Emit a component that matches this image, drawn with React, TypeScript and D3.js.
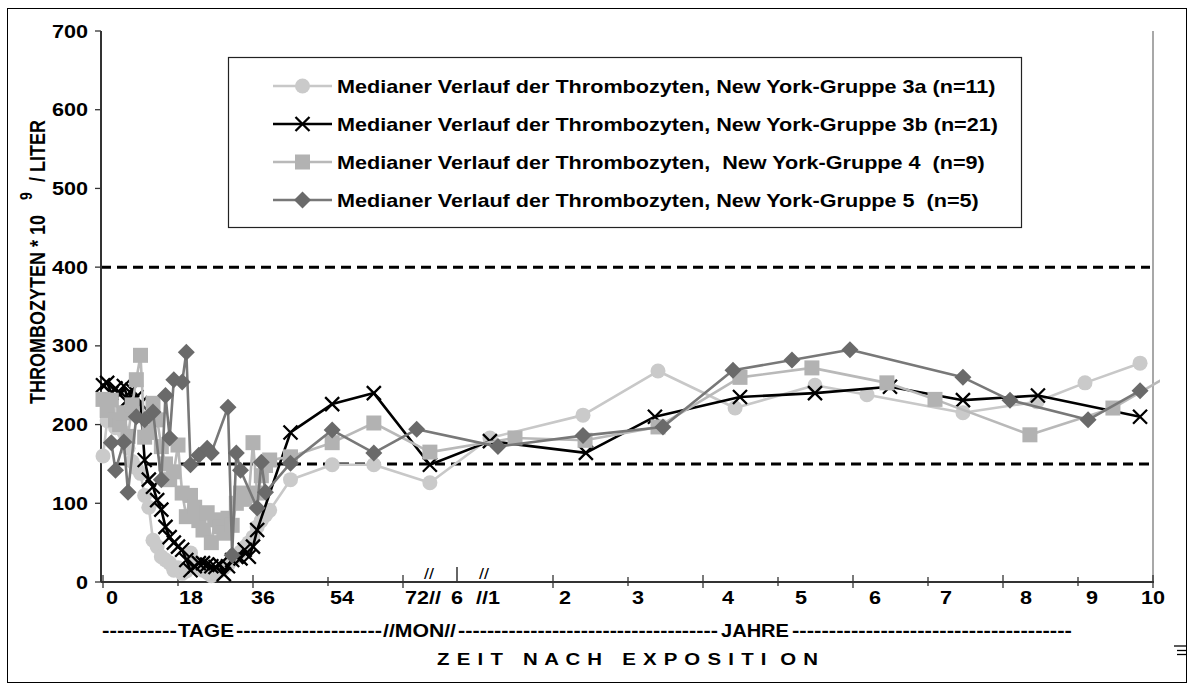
import React from 'react';
import * as d3 from 'd3';

const W = 1189;
const H = 684;
const FONT = '"Liberation Sans", Arial, Helvetica, sans-serif';
const SX = 1.2; // horizontal stretch of the original lettering

// Zeitachse: Tage nach Exposition (gebrochene Achse: Tage | Monate | Jahre)
const AXIS_BREAKS_DAYS = [0, 72, 182.5, 365, 3650];
const Y_TICKS = [0, 100, 200, 300, 400, 500, 600, 700];
const REF_LINES = [400, 150];

const X_TICK_DAYS = [0, 18, 36, 54, 72, 730, 1095, 1460, 1825, 2190, 2555, 2920, 3285, 3650];
const X_TICK_MAJOR = [0, 36, 72, 730, 1460, 2190, 2920, 3650];
const X_LABELS = ['0', '18', '36', '54', '72//', '6', '//1', '2', '3', '4', '5', '6', '7', '8', '9', '10'];
const X_LABEL_PX = [112, 191, 263, 342, 423, 457, 488, 565, 638, 728, 801, 875, 946, 1026, 1092, 1153];

const LEGEND_LABELS = [
  'Medianer Verlauf der Thrombozyten, New York-Gruppe 3a (n=11)',
  'Medianer Verlauf der Thrombozyten, New York-Gruppe 3b (n=21)',
  'Medianer Verlauf der Thrombozyten,  New York-Gruppe 4  (n=9)',
  'Medianer Verlauf der Thrombozyten, New York-Gruppe 5  (n=5)',
];

// Gruppe 3a
const g3aDays = [
  0, 1, 2, 3, 4, 5, 6, 7, 8, 9, 10, 11, 12, 13, 14, 15, 16, 17, 18, 19, 20,
  21, 22, 23, 24, 25, 26, 27, 28, 29, 30, 31, 32, 33, 34, 35, 36, 37, 38, 39, 40,
  45, 55, 65, 127, 423, 876, 1241, 1616, 2005, 2258, 2725, 3085, 3319, 3587,
];
const g3aVals = [
  160, 205, 210, 196, 214, 190, 170, 153, 145, 138, 110, 95, 53, 45, 32, 28, 24, 15, 18, 11,
  14, 37, 25, 19, 15, 12, 8, 11, 14, 18, 22, 28, 32, 38, 44, 50, 57, 70, 78, 85, 91,
  130, 149, 149, 126, 183, 212, 268, 221, 250, 238, 215, 229, 253, 278,
];

// Gruppe 3b
const g3bDays = [
  0, 1, 2, 3, 4, 5, 6, 7, 8, 9, 10, 11, 12, 13, 14, 15, 16, 17, 18, 19, 20,
  21, 22, 23, 24, 25, 26, 27, 28, 29, 30, 31, 32, 33, 34, 35, 36, 37,
  45, 55, 65, 127, 423, 890, 1226, 1640, 2005, 2370, 2725, 3090, 3587,
];
const g3bVals = [
  250, 253, 240, 246, 238, 249, 232, 244, 235, 227, 155, 130, 121, 104, 92, 70, 57, 50, 45, 41,
  28, 15, 20, 24, 24, 22, 20, 19, 22, 10, 20, 28, 32, 30, 41, 32, 45, 66,
  190, 226, 240, 149, 179, 164, 210, 235, 240, 248, 231, 237, 210,
];

// Gruppe 4
const g4Days = [
  0, 1, 2, 3, 4, 5, 6, 7, 8, 9, 10, 11, 12, 13, 14, 15, 16, 17, 18, 19, 20,
  21, 22, 23, 24, 25, 26, 27, 28, 29, 30, 31, 32, 33, 34, 35, 36, 37, 38, 39, 40,
  45, 55, 65, 127, 545, 886, 1241, 1640, 1990, 2355, 2589, 3051, 3455, 3830,
];
const g4Vals = [
  232, 218, 231, 206, 200, 215, 185, 225, 257, 288, 184, 190, 227, 206, 172, 150, 130, 140, 174, 113,
  83, 110, 95, 78, 66, 88, 50, 79, 70, 62, 81, 72, 100, 113, 105, 110, 177, 113, 135, 148, 155,
  159, 177, 202, 165, 183, 180, 197, 260, 272, 253, 232, 187, 221, 278,
];

// Gruppe 5
const g5Days = [
  2, 3, 5, 6, 8, 10, 12, 14, 15, 16, 17, 19, 20, 21, 23, 25, 26, 30, 31, 32, 33, 37, 38, 39,
  45, 55, 65, 100, 462, 876, 1265, 1606, 1893, 2175, 2725, 2954, 3334, 3587,
];
const g5Vals = [
  177, 142, 178, 114, 210, 206, 216, 130, 237, 183, 257, 254, 292, 149, 161, 170, 164, 222, 34, 164, 142, 94, 152, 114,
  151, 193, 164, 194, 172, 186, 197, 269, 282, 295, 260, 231, 206, 243,
];

type MarkerType = 'circle' | 'x' | 'square' | 'diamond';

const SERIES: { days: number[]; vals: number[]; marker: MarkerType; stroke: string; fill: string }[] = [
  { days: g3aDays, vals: g3aVals, marker: 'circle', stroke: '#c8c8c8', fill: '#cacaca' },
  { days: g3bDays, vals: g3bVals, marker: 'x', stroke: '#000000', fill: '#000000' },
  { days: g4Days, vals: g4Vals, marker: 'square', stroke: '#b9b9b9', fill: '#b2b2b2' },
  { days: g5Days, vals: g5Vals, marker: 'diamond', stroke: '#787878', fill: '#6a6a6a' },
];

function Marker({ type, cx, cy, fill }: { type: MarkerType; cx: number; cy: number; fill: string }) {
  if (type === 'circle') return <circle cx={cx} cy={cy} r={7.5} fill={fill} />;
  if (type === 'square') return <rect x={cx - 7.5} y={cy - 7.5} width={15} height={15} fill={fill} />;
  if (type === 'diamond')
    return <path d={`M${cx},${cy - 8.5}L${cx + 8.5},${cy}L${cx},${cy + 8.5}L${cx - 8.5},${cy}Z`} fill={fill} />;
  const s = 7;
  return (
    <path
      d={`M${cx - s},${cy - s}L${cx + s},${cy + s}M${cx - s},${cy + s}L${cx + s},${cy - s}`}
      stroke={fill}
      strokeWidth={2.3}
      fill="none"
    />
  );
}

function T({
  x, y, children, size = 18, anchor = 'start', weight = 'bold', rotate, textLength, adjust,
}: {
  x: number; y: number; children: React.ReactNode; size?: number; anchor?: string; weight?: string;
  rotate?: number; textLength?: number; adjust?: string;
}) {
  return (
    <text
      transform={`translate(${x},${y}) scale(${SX},1)${rotate ? ` rotate(${rotate})` : ''}`}
      fontFamily={FONT}
      fontSize={size}
      fontWeight={weight}
      textAnchor={anchor}
      fill="#000"
      style={{ whiteSpace: 'pre' }}
      textLength={textLength}
      lengthAdjust={adjust}
    >
      {children}
    </text>
  );
}

export default function App() {
  const x = d3.scaleLinear().domain(AXIS_BREAKS_DAYS).range([103, 403, 457, 478, 1153]);
  const y = d3.scaleLinear().domain([0, 700]).range([582, 31]);
  const line = d3
    .line<[number, number]>()
    .x((d) => x(d[0]))
    .y((d) => y(d[1]));

  const legendRows = [86, 124, 162, 200];

  const dashSegs: { s: string; x0: number; x1: number }[] = [
    { s: '----------', x0: 102, x1: 177 },
    { s: 'TAGE', x0: 178, x1: 234 },
    { s: '--------------------', x0: 236, x1: 382 },
    { s: '//MON//', x0: 383, x1: 456 },
    { s: '------------------------------------', x0: 458, x1: 718 },
    { s: 'JAHRE', x0: 721, x1: 789 },
    { s: '--------------------------------------', x0: 792, x1: 1072 },
  ];
  const rowX0 = dashSegs[0].x0;

  return (
    <svg width={W} height={H} style={{ position: 'absolute', left: 0, top: 0, background: '#fff' }}>
      <rect x={0} y={0} width={W} height={H} fill="#fff" />
      <rect x={7.5} y={8.5} width={1179} height={674} fill="none" stroke="#000" strokeWidth={1} />

      <defs>
        <clipPath id="plotclip">
          <rect x={90} y={20} width={1070} height={600} />
        </clipPath>
      </defs>

      {/* right border of plot area */}
      <line x1={1153} x2={1153} y1={y(700)} y2={y(0)} stroke="#a8a8a8" strokeWidth={2} />

      {/* reference lines */}
      {REF_LINES.map((v, i) => (
        <line
          key={v}
          x1={i === 0 ? 101 : 115}
          x2={1150}
          y1={y(v)}
          y2={y(v)}
          stroke="#000"
          strokeWidth={3}
          strokeDasharray="10,6"
        />
      ))}

      {/* y axis */}
      <line x1={101} x2={101} y1={y(700)} y2={y(0)} stroke="#333" strokeWidth={2} />
      {Y_TICKS.map((v) => (
        <g key={v}>
          <line x1={95} x2={101} y1={y(v)} y2={y(v)} stroke="#333" strokeWidth={1.3} />
          <T x={88} y={y(v) + 6.5} anchor="end">
            {String(v)}
          </T>
        </g>
      ))}

      {/* x axis */}
      <line x1={101} x2={1154} y1={y(0)} y2={y(0)} stroke="#333" strokeWidth={2} />
      {X_TICK_DAYS.map((d) => {
        const major = X_TICK_MAJOR.includes(d);
        return (
          <line
            key={d}
            x1={x(d)}
            x2={x(d)}
            y1={y(0) - (major ? 7 : 5)}
            y2={y(0) + (major ? 6 : 4)}
            stroke="#333"
            strokeWidth={1.3}
          />
        );
      })}
      <line x1={x(182.5)} x2={x(182.5)} y1={567} y2={581} stroke="#333" strokeWidth={1.5} />
      <T x={x(125)} y={579} anchor="middle" weight="normal" size={15}>
        //
      </T>
      <T x={x(365) + 6} y={579} anchor="middle" weight="normal" size={15}>
        //
      </T>

      {X_LABELS.map((l, i) => (
        <T key={i} x={X_LABEL_PX[i]} y={604} anchor="middle">
          {l}
        </T>
      ))}

      {/* TAGE / MON / JAHRE row as one text */}
      <text
        transform={`translate(${rowX0},637) scale(${SX},1)`}
        fontFamily={FONT}
        fontSize={18}
        fontWeight="bold"
        fill="#000"
      >
        {dashSegs.map((s, i) => (
          <tspan
            key={i}
            x={(s.x0 - rowX0) / SX}
            textLength={(s.x1 - s.x0) / SX}
            lengthAdjust="spacingAndGlyphs"
          >
            {s.s}
          </tspan>
        ))}
      </text>
      <T x={437} y={665} size={17} textLength={381 / SX} adjust="spacing">
        {'Z E I T   N A C H   E X P O S I T I  O N'}
      </T>

      {/* y axis title */}
      <T x={45} y={404} rotate={-90}>
        THROMBOZYTEN * 10
      </T>
      <T x={32} y={196} rotate={-90} size={14} anchor="middle">
        9
      </T>
      <T x={45} y={182} rotate={-90}>
        / LITER
      </T>

      {/* series */}
      <g clipPath="url(#plotclip)">
        {SERIES.map((s, si) => {
          const pts: [number, number][] = s.days.map((d, i) => [d, s.vals[i]]);
          return (
            <g key={si}>
              <path d={line(pts) || ''} fill="none" stroke={s.stroke} strokeWidth={2.6} strokeLinejoin="round" />
              {pts.map((p, i) => (
                <Marker key={i} type={s.marker} cx={x(p[0])} cy={y(p[1])} fill={s.fill} />
              ))}
            </g>
          );
        })}
      </g>

      {/* legend */}
      <rect x={228.5} y={57.5} width={793} height={170} fill="#fff" stroke="#222" strokeWidth={1.2} />
      {SERIES.map((s, i) => (
        <g key={i}>
          <line x1={273} x2={332} y1={legendRows[i]} y2={legendRows[i]} stroke={s.stroke} strokeWidth={2.6} />
          <Marker type={s.marker} cx={302.5} cy={legendRows[i]} fill={s.fill} />
          <T x={337} y={legendRows[i] + 6.5}>
            {LEGEND_LABELS[i]}
          </T>
        </g>
      ))}

      {/* small mark bottom right */}
      <g stroke="#000" strokeWidth={1.3}>
        <line x1={1174} x2={1187} y1={646} y2={646} />
        <line x1={1177} x2={1187} y1={650.5} y2={650.5} />
        <line x1={1177} x2={1187} y1={654.5} y2={654.5} />
      </g>
    </svg>
  );
}
